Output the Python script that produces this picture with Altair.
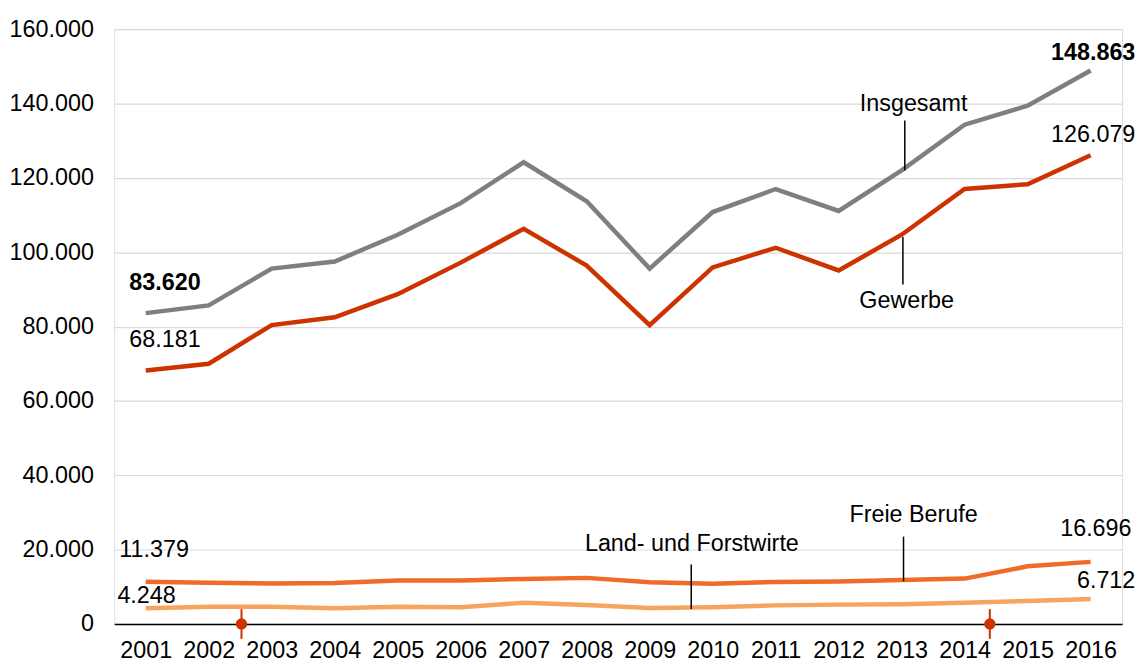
import altair as alt
import pandas as pd

years = list(range(2001, 2017))
insgesamt = [83620, 85700, 95600, 97500, 104700, 113200, 124200, 113700, 95600,
             110800, 117000, 111100, 122000, 134300, 139400, 148863]
gewerbe = [68181, 70000, 80400, 82500, 88700, 97200, 106300, 96400, 80400,
           95900, 101200, 95100, 104700, 117000, 118300, 126079]
freie_berufe = [11379, 11100, 10900, 11000, 11700, 11700, 12100, 12400, 11200,
                10800, 11300, 11400, 11800, 12200, 15500, 16696]
land_forst = [4248, 4600, 4600, 4200, 4600, 4500, 5700, 5100, 4300,
              4500, 5000, 5200, 5300, 5700, 6200, 6712]

series_names = ["Insgesamt", "Gewerbe", "Freie Berufe", "Land- und Forstwirte"]
series_colors = ["#7f7f7f", "#cc3300", "#f06a28", "#f6a45e"]

rows = []
for name, vals in zip(series_names, [insgesamt, gewerbe, freie_berufe, land_forst]):
    for y, v in zip(years, vals):
        rows.append({"Jahr": y, "Wert": v, "Reihe": name})
df = pd.DataFrame(rows)

# value labels (first/last values)
val_left = pd.DataFrame({
    "x": [2000.74, 2000.74, 2000.58, 2000.55],
    "y": [91600, 76400, 20000, 7500],
    "t": ["83.620", "68.181", "11.379", "4.248"],
    "bold": [True, False, False, False],
})
val_right = pd.DataFrame({
    "x": [2016.71, 2016.71, 2016.65, 2016.71],
    "y": [153500, 131400, 25400, 11500],
    "t": ["148.863", "126.079", "16.696", "6.712"],
    "bold": [True, False, False, False],
})
# series name labels and leader lines
names_df = pd.DataFrame({
    "x": [2013.19, 2013.08, 2013.19, 2009.67],
    "y": [139900, 86800, 29400, 21400],
    "t": series_names,
})
leaders = pd.DataFrame({
    "x": [2013.05, 2013.02, 2013.03, 2009.66],
    "y": [135400, 104100, 23500, 16000],
    "y2": [122000, 91300, 11500, 4000],
})
markers = pd.DataFrame({"x": [2002.52, 2014.4], "y": [0, 0], "y1": [4000, 4000], "y2": [-4000, -4000]})

FONT = "Liberation Sans"
FS = 23.5
xscale = alt.Scale(domain=[2000.5, 2016.5], nice=False, zero=False)
yscale = alt.Scale(domain=[0, 160000], nice=False)

lines = alt.Chart(df).mark_line(strokeWidth=4.5).encode(
    x=alt.X("Jahr:Q", scale=xscale,
            axis=alt.Axis(values=years, format="d", title=None, grid=False, ticks=False,
                          domainColor="#000000", domainWidth=1.5, labelFont=FONT,
                          labelFontSize=FS, labelColor="#000000", labelPadding=15,
                          labelFlush=False)),
    y=alt.Y("Wert:Q", scale=yscale,
            axis=alt.Axis(values=list(range(0, 160001, 20000)), title=None, domain=False,
                          ticks=False, gridColor="#d9d9d9", gridWidth=1.2,
                          labelFont=FONT, labelFontSize=FS, labelColor="#000000",
                          labelPadding=21,
                          labelExpr="replace(format(datum.value, ','), ',', '.')")),
    color=alt.Color("Reihe:N", scale=alt.Scale(domain=series_names, range=series_colors),
                    legend=None),
    detail="Reihe:N",
)

marker_rules = alt.Chart(markers).mark_rule(color="#cc3300", strokeWidth=2).encode(
    x="x:Q", y="y1:Q", y2="y2:Q")
marker_pts = alt.Chart(markers).mark_circle(color="#cc3300", size=130, opacity=1).encode(
    x="x:Q", y="y:Q")

left_bold = alt.Chart(val_left[val_left.bold]).mark_text(
    align="left", baseline="middle", font=FONT, fontSize=FS, fontWeight="bold", color="#000000"
).encode(x="x:Q", y="y:Q", text="t:N")
left_norm = alt.Chart(val_left[~val_left.bold]).mark_text(
    align="left", baseline="middle", font=FONT, fontSize=FS, color="#000000"
).encode(x="x:Q", y="y:Q", text="t:N")
right_bold = alt.Chart(val_right[val_right.bold]).mark_text(
    align="right", baseline="middle", font=FONT, fontSize=FS, fontWeight="bold", color="#000000"
).encode(x="x:Q", y="y:Q", text="t:N")
right_norm = alt.Chart(val_right[~val_right.bold]).mark_text(
    align="right", baseline="middle", font=FONT, fontSize=FS, color="#000000"
).encode(x="x:Q", y="y:Q", text="t:N")
name_text = alt.Chart(names_df).mark_text(
    align="center", baseline="middle", font=FONT, fontSize=FS, color="#000000"
).encode(x="x:Q", y="y:Q", text="t:N")
leader_rules = alt.Chart(leaders).mark_rule(color="#000000", strokeWidth=1.5).encode(
    x="x:Q", y="y:Q", y2="y2:Q")

chart = alt.layer(
    lines, leader_rules, marker_rules, marker_pts,
    left_bold, left_norm, right_bold, right_norm, name_text
).properties(
    width=1015, height=599,
    autosize=alt.AutoSizeParams(type="none"),
    padding={"left": 107, "top": 19, "right": 15, "bottom": 37},
).configure_view(stroke=None).configure(background="#ffffff")

chart.save("out.html", embed_options={"renderer": "svg", "actions": False})
